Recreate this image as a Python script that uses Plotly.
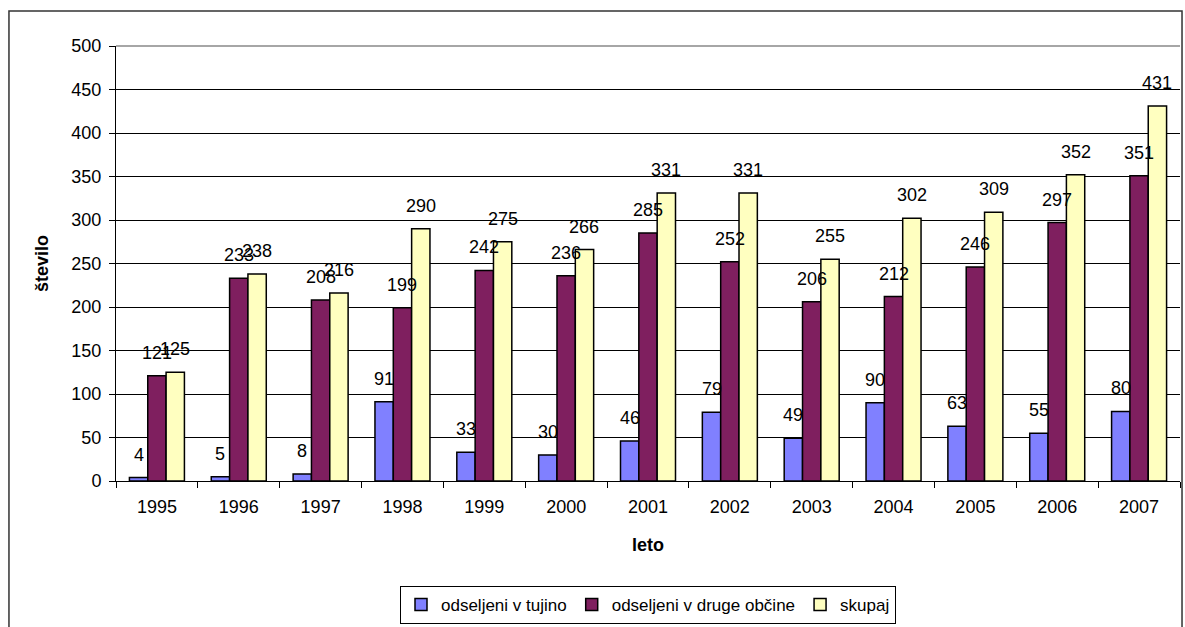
import plotly.graph_objects as go

# Data
leta = ['1995', '1996', '1997', '1998', '1999', '2000', '2001',
        '2002', '2003', '2004', '2005', '2006', '2007']
tujina = [4, 5, 8, 91, 33, 30, 46, 79, 49, 90, 63, 55, 80]
druge_obcine = [121, 233, 208, 199, 242, 236, 285, 252, 206, 212, 246, 297, 351]
skupaj = [125, 238, 216, 290, 275, 266, 331, 331, 255, 302, 309, 352, 431]

font = 'Arial, Liberation Sans, sans-serif'
series = [
    ('odseljeni v tujino', tujina, '#8080FF'),
    ('odseljeni v druge občine', druge_obcine, '#7F1F5F'),
    ('skupaj', skupaj, '#FFFFC0'),
]

fig = go.Figure()
annotations = []
bar_px = 18.3  # width of one bar in pixels
for i, (name, vals, color) in enumerate(series):
    fig.add_trace(go.Bar(
        x=leta, y=vals, name=name,
        marker=dict(color=color, line=dict(color='black', width=1.5)),
    ))
    # Excel-style value labels sitting a bit above each bar
    # (x given as category index, since the years look numeric)
    for j, v in enumerate(vals):
        annotations.append(dict(
            x=j, y=v, text=str(v), showarrow=False,
            xshift=(i - 1) * bar_px, yshift=23, yanchor='middle',
            font=dict(size=18, color='black', family=font),
        ))

fig.update_layout(
    width=1185, height=627,
    margin=dict(l=116, r=5, t=46, b=146, autoexpand=False),
    paper_bgcolor='white', plot_bgcolor='white',
    barmode='group', bargap=0.328, bargroupgap=0,
    font=dict(family=font, color='black', size=18),
    showlegend=True,
    legend=dict(
        orientation='h', x=0.5, xanchor='center', y=-0.285, yanchor='middle',
        bordercolor='black', borderwidth=1, font=dict(size=17),
        itemwidth=30, tracegroupgap=0,
    ),
    xaxis=dict(
        type='category', range=[-0.5, len(leta) - 0.5],
        title=dict(text='<b>leto</b>', font=dict(size=18), standoff=22),
        showline=True, linecolor='black', linewidth=1,
        ticks='outside', ticklen=6, tickcolor='black', tickson='boundaries',
        tickfont=dict(size=18), ticklabelstandoff=9, showgrid=False,
        automargin=False,
    ),
    yaxis=dict(
        title=dict(text='<b>število</b>', font=dict(size=18), standoff=18),
        range=[0, 500], dtick=50,
        showline=True, linecolor='black', linewidth=1,
        ticks='outside', ticklen=6, tickcolor='black',
        ticklabelstandoff=4,
        showgrid=True, gridcolor='black', gridwidth=1,
        tickfont=dict(size=18), zeroline=False,
        automargin=False,
    ),
    annotations=annotations,
    shapes=[
        # outer chart frame
        dict(type='rect', xref='paper', yref='paper',
             x0=-0.1006, x1=1.0019, y0=-0.45, y1=1.0805,
             line=dict(color='#333333', width=1.5), layer='below'),
        # plot area top border
        dict(type='line', xref='paper', yref='paper', x0=0, x1=1, y0=1, y1=1,
             line=dict(color='#888888', width=1.5)),
    ],
)

# drop the browser's default 8px body margin so the figure fills the window
fig.write_html('out.html', config={'displayModeBar': False},
               post_script="document.body.style.margin='0';")
